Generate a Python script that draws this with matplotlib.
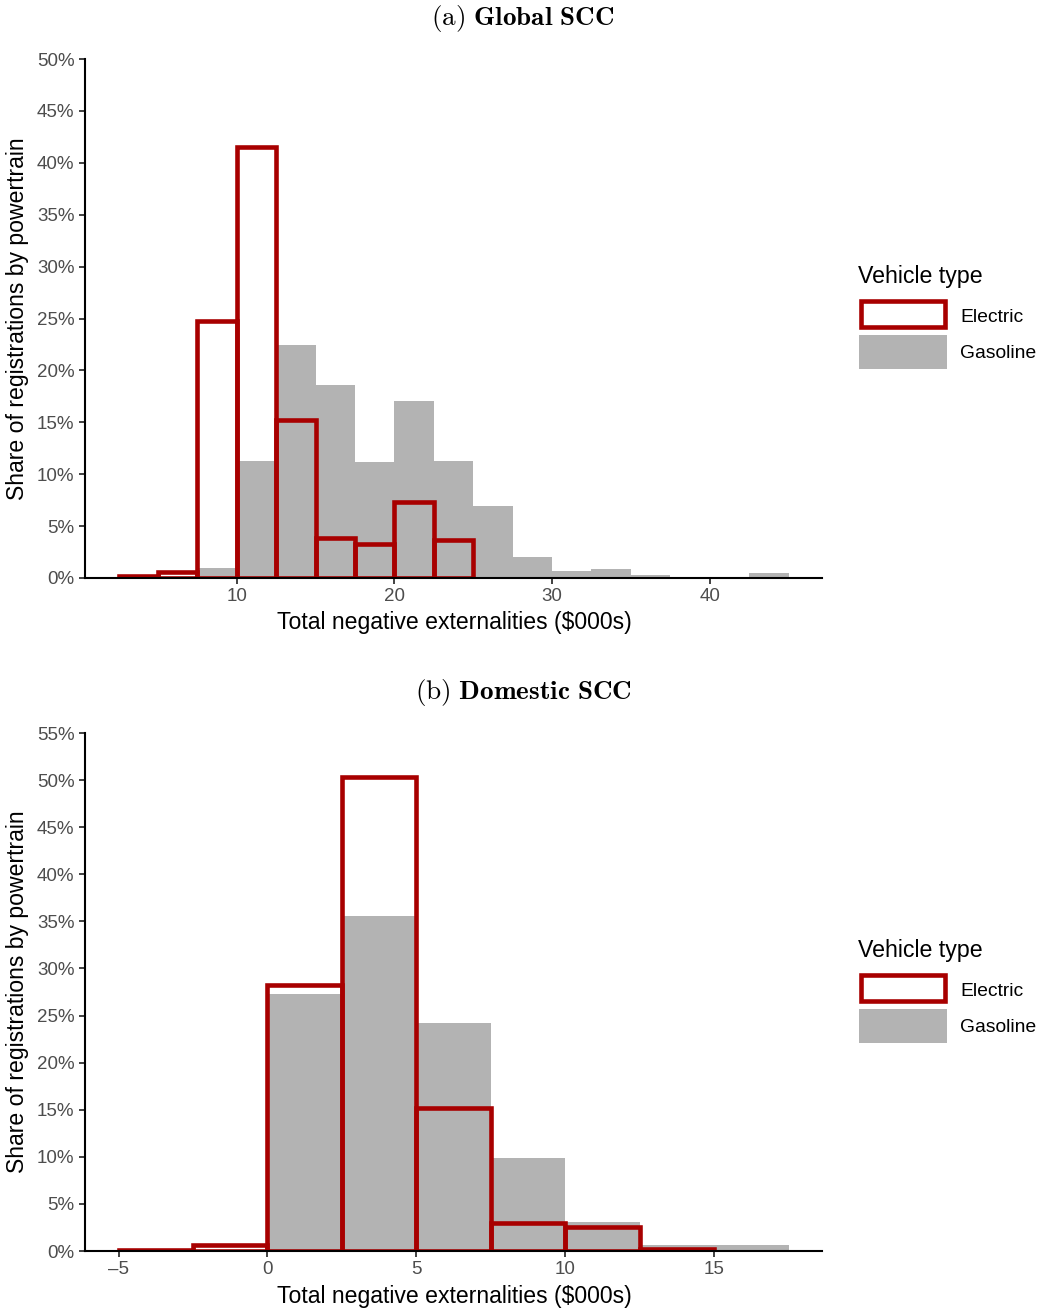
import numpy as np
import matplotlib
matplotlib.use('agg')
import matplotlib.pyplot as plt
from matplotlib.patches import Rectangle
from matplotlib.ticker import FuncFormatter

plt.rcParams['font.family'] = ['Liberation Sans', 'DejaVu Sans']
plt.rcParams['mathtext.fontset'] = 'cm'

# Panel (a): Global SCC, bins of $2.5k (left edges), share in %
global_left = [2.5, 5, 7.5, 10, 12.5, 15, 17.5, 20, 22.5, 25, 27.5, 30, 32.5, 35, 37.5, 40, 42.5]
global_gas = [0, 0, 1.0, 11.3, 22.4, 18.6, 11.2, 17.1, 11.3, 6.9, 2.0, 0.65, 0.85, 0.3, 0, 0, 0.45]
global_ev = [0.2, 0.6, 24.8, 41.5, 15.2, 3.9, 3.3, 7.3, 3.7, 0, 0, 0, 0, 0, 0, 0, 0]

# Panel (b): Domestic SCC
dom_left = [-5, -2.5, 0, 2.5, 5, 7.5, 10, 12.5, 15]
dom_gas = [0, 0, 27.3, 35.6, 24.2, 9.9, 3.1, 0.6, 0.6]
dom_ev = [0.1, 0.65, 28.2, 50.3, 15.2, 3.0, 2.5, 0.2, 0]

BIN_W = 2.5
RED = '#A80000'
GREY = '#B3B3B3'
W, H = 1039, 1312

fig = plt.figure(figsize=(W / 100, H / 100), dpi=100)


def px_axes(x0, y0, x1, y1):
    return fig.add_axes([x0 / W, 1 - y1 / H, (x1 - x0) / W, (y1 - y0) / H])


def ftext(x, y, s, **kw):
    return fig.text(x / W, 1 - y / H, s, **kw)


def draw_panel(ax, left, gas, ev, xlim, ymax, xticks, yticks):
    left = np.array(left, dtype=float)
    gas = np.array(gas)
    ev = np.array(ev)
    g = gas > 0
    ax.bar(left[g], gas[g], width=BIN_W, align='edge', color=GREY, linewidth=0, zorder=1)
    e = ev > 0
    ax.bar(left[e], ev[e], width=BIN_W, align='edge', facecolor='none', edgecolor=RED,
           linewidth=3.3, joinstyle='miter', zorder=2)
    ax.set_xlim(*xlim)
    ax.set_ylim(0, ymax)
    ax.set_xticks(xticks)
    ax.set_xticklabels(['\u2013' + str(-t) if t < 0 else str(t) for t in xticks])
    ax.set_yticks(yticks)
    ax.yaxis.set_major_formatter(FuncFormatter(lambda v, p: f"{v:.0f}%"))
    for s in ['top', 'right']:
        ax.spines[s].set_visible(False)
    for s in ['left', 'bottom']:
        ax.spines[s].set_linewidth(1.5)
        ax.spines[s].set_color('black')
        ax.spines[s].set_zorder(5)
    ax.tick_params(axis='both', length=4, width=1.3, color='#333333', labelcolor='#4D4D4D',
                   labelsize=13.5, pad=3.5)


def draw_legend(dy):
    ftext(858, 277 + dy, 'Vehicle type', fontsize=16.7, va='center', ha='left')
    fig.add_artist(Rectangle((861 / W, 1 - (327 + dy) / H), 84 / W, 26 / H,
                             transform=fig.transFigure, facecolor='white', edgecolor=RED,
                             linewidth=3.3, joinstyle='miter'))
    fig.add_artist(Rectangle((859 / W, 1 - (369 + dy) / H), 88 / W, 34 / H,
                             transform=fig.transFigure, facecolor=GREY, linewidth=0))
    ftext(960, 317 + dy, 'Electric', fontsize=13.9, va='center', ha='left')
    ftext(960, 354 + dy, 'Gasoline', fontsize=13.9, va='center', ha='left')


# Top panel
ax1 = px_axes(85, 59, 822, 578)
draw_panel(ax1, global_left, global_gas, global_ev, (0.375, 47.125), 50,
           [10, 20, 30, 40], np.arange(0, 51, 5))
ftext(523, 19, r'$\mathrm{(a)}\ \mathbf{Global\ SCC}$', fontsize=19.5, ha='center', va='center')
ftext(454, 622, 'Total negative externalities ($000s)', fontsize=16.6, ha='center', va='center')
ftext(18, 319, 'Share of registrations by powertrain', fontsize=16.6, ha='center', va='center',
      rotation=90)
draw_legend(0)

# Bottom panel
ax2 = px_axes(85, 733, 822, 1251)
draw_panel(ax2, dom_left, dom_gas, dom_ev, (-6.125, 18.625), 55,
           [-5, 0, 5, 10, 15], np.arange(0, 56, 5))
ftext(523, 693, r'$\mathrm{(b)}\ \mathbf{Domestic\ SCC}$', fontsize=19.5, ha='center', va='center')
ftext(454, 1296, 'Total negative externalities ($000s)', fontsize=16.6, ha='center', va='center')
ftext(18, 992, 'Share of registrations by powertrain', fontsize=16.6, ha='center', va='center',
      rotation=90)
draw_legend(674)

fig.savefig('out.png', dpi=100)
plt.close(fig)
